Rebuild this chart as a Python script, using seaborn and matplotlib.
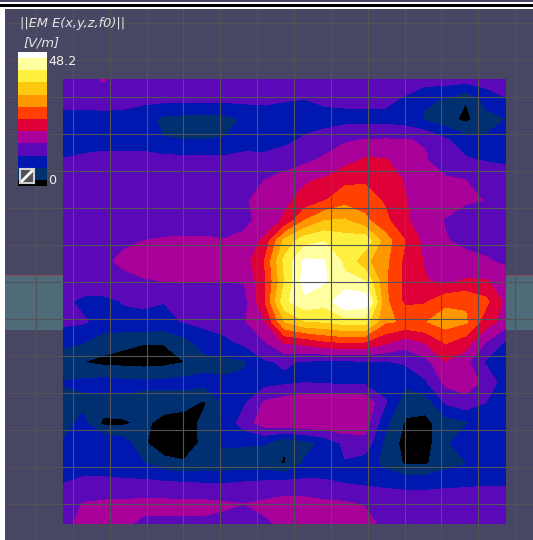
import numpy as np
import seaborn as sns
import matplotlib.pyplot as plt
from matplotlib.colors import ListedColormap
from matplotlib.patches import Rectangle

# field samples in V/m, top row first, 23 columns left to right
row_00 = [14, 14, 16.5, 14, 14, 14, 14, 14, 14, 14, 14, 14, 14, 14, 14, 14, 14, 14, 14, 14, 14, 14, 14]
row_01 = [13, 13, 13.2, 13, 13, 13, 13, 13, 13, 13, 12.8, 12.2, 12, 12.7, 13, 13, 13, 11.5, 8.5, 7.8, 4.2, 9.5, 11.8]
row_02 = [11, 11, 11, 11, 9.5, 7, 6.5, 6.5, 6.5, 8.5, 10, 10.5, 10.5, 10.7, 10.7, 10.7, 10.7, 10, 7.5, 5.5, 3, 6.5, 8]
row_03 = [9.5, 9.7, 10, 10, 10, 8.2, 8, 8, 8.2, 10.5, 10.7, 11, 12.5, 13.5, 15.5, 16.1, 16.2, 16.1, 15.8, 12.5, 9.5, 8.6, 8.5]
row_04 = [12.2, 13, 13.5, 13.5, 13.5, 13.3, 13.2, 13.2, 13, 13, 12.8, 14, 15, 16.8, 18.5, 20.5, 20.3, 18, 16.2, 14, 12.5, 11.7, 11.5]
row_05 = [13.5, 14, 14.5, 14.5, 14.5, 14.5, 14.3, 14.3, 14.5, 15, 16, 17.5, 19.5, 20.5, 23, 23.5, 23, 19.5, 17.5, 16.5, 16, 15, 13.5]
row_06 = [13.5, 14, 14.5, 14.5, 14.5, 14.5, 14.5, 14.5, 14.7, 15.5, 17.5, 19, 21.5, 23.8, 26.5, 26, 23.5, 20.2, 18, 17, 16.5, 15.9, 14]
row_07 = [14, 14.5, 14.7, 15, 15, 15, 15, 15, 15, 15.3, 17, 20.7, 28, 32, 32.5, 29, 25, 20.7, 17.5, 15.8, 14, 14, 13.8]
row_08 = [14.5, 14.7, 15, 15.6, 16, 16.2, 16.3, 16.3, 16.1, 16.7, 21, 33, 38.5, 39.8, 38, 39, 30, 24, 18.5, 16.2, 15.2, 14.6, 14.4]
row_09 = [14.7, 15, 15.5, 16.5, 17, 17.5, 17.5, 17.5, 17.5, 18, 24, 37, 44.7, 44.2, 39, 33, 29, 23, 19.5, 18, 17, 16.4, 15.3]
row_10 = [14.5, 14.7, 15, 15.3, 15.8, 16, 16, 16, 16, 16.2, 23, 36, 46, 44.3, 41, 40, 28.5, 23, 20.3, 19, 20.5, 20.3, 18]
row_11 = [13, 11, 10.8, 12.2, 12.3, 12.1, 12.5, 13.5, 14.5, 14.5, 23.5, 39, 43, 41.5, 48, 47, 29, 23, 23.5, 27, 27.5, 25, 18.8]
row_12 = [13, 12.5, 10.5, 11, 11.5, 11, 12.2, 13, 14, 15.6, 19.5, 32, 35.7, 36.3, 38, 38, 28.5, 27.5, 27.8, 30, 28.5, 22, 18]
row_13 = [9, 8.2, 6, 4.8, 4.2, 4.2, 6.5, 10, 11, 13, 15.8, 20.5, 21.5, 23.5, 24.5, 24, 21, 18, 20.5, 24.5, 22, 16, 11.5]
row_14 = [5.8, 4, 3, 2.8, 2.5, 2.8, 3.9, 6.5, 7, 7.5, 11.5, 12.5, 11.5, 11, 11, 11.5, 11.7, 12.5, 14.5, 19.8, 17, 11.5, 7.5]
row_15 = [8.2, 8.9, 9.5, 9, 8.7, 9, 9.5, 9.2, 8.5, 9, 10.5, 11.2, 11.9, 11.5, 11, 11, 10, 9, 11.5, 17, 18, 15, 9.5]
row_16 = [7, 7, 6.8, 7.2, 6.8, 6, 5.5, 3.5, 8.2, 11.5, 16.5, 18, 19, 19.3, 19.5, 19, 12.5, 5.5, 5.5, 12.5, 14.5, 12, 9.5]
row_17 = [6.5, 9, 3, 3.2, 5, 2.5, 2, 5, 9, 14, 18, 19.5, 19.7, 19.8, 19.5, 18, 9, 3.5, 3, 6, 7.5, 9, 9.5]
row_18 = [8.3, 11, 12, 10, 4.5, 1.5, 1.5, 5, 8.8, 8.5, 8.3, 4.4, 6.5, 9, 13, 14.5, 7, 2.5, 2.5, 7, 11.5, 11, 10]
row_19 = [9.8, 10, 9.5, 8.4, 8.2, 5.5, 4.5, 5.5, 5.5, 5.5, 5.5, 3.6, 8.5, 9.5, 11.7, 10, 6.8, 3.5, 3.5, 6.5, 7.8, 9, 9.5]
row_20 = [12, 13, 13.3, 13.2, 13, 12.8, 12.5, 12.1, 12, 12.6, 13, 13.5, 13.1, 12.7, 12, 11.5, 11.2, 11, 11, 11.3, 11.5, 11.7, 11.7]
row_21 = [14, 16.2, 16.6, 16.8, 17, 17, 17, 17, 16.5, 16, 16.7, 17.5, 17.5, 16.8, 16.5, 15.6, 14.5, 14, 14, 14, 14, 14, 14]
row_22 = [15, 17, 17, 16.5, 15.3, 15.3, 15.3, 15.3, 15, 15.5, 15.5, 16.5, 17, 17.5, 18, 18, 14.5, 14.5, 15, 14.5, 14.5, 14.5, 14.5]

field_rows = [row_00, row_01, row_02, row_03, row_04, row_05, row_06, row_07, row_08, row_09, row_10, row_11,
              row_12, row_13, row_14, row_15, row_16, row_17, row_18, row_19, row_20, row_21, row_22]

band_edges = [0, 4, 8, 12, 16, 20, 24, 28, 32, 36, 40, 44, 48.2]
band_colors = ["#000000", "#003070", "#0018b0", "#5a08b8", "#a80098", "#e00038",
               "#ff4000", "#ff9800", "#ffc810", "#fff040", "#ffffa0", "#ffffff"]
# legend rows, top to bottom, in half steps (end bands are half as tall)
legend_rows = [11, 10, 10, 9, 9, 8, 8, 7, 7, 6, 6, 5, 5, 4, 4, 3, 3, 2, 2, 1, 1, 0]

grid_x = [36, 72.8, 109.7, 146.5, 183.4, 220.2, 257.1, 293.9, 330.8, 367.6, 404.5, 441.3, 478.2, 515]
grid_y = [23, 60, 97, 134, 171, 208, 245, 282, 319, 356, 393, 430, 467, 504]

W, H = 533, 540
BG = "#474764"
GRID = "#525258"

sns.set_theme(style="white")
plt.rcParams["font.family"] = ["DejaVu Sans"]

fig = plt.figure(figsize=(W / 100, H / 100), dpi=100, facecolor="white")


def px_axes(x0, y0, x1, y1, zorder):
    return fig.add_axes([x0 / W, 1 - y1 / H, (x1 - x0) / W, (y1 - y0) / H], zorder=zorder)


# backdrop: slate plane and the strip behind the field
back = px_axes(0, 0, W, H, 0)
back.set_xlim(0, W)
back.set_ylim(H, 0)
back.axis("off")
back.add_patch(Rectangle((5, 9), W, H, color=BG, lw=0))
back.add_patch(Rectangle((5, 274.5), W, 55.5, color="#4f6a78", lw=0))
back.plot([5, W], [274.5, 274.5], color="#8a4a60", lw=0.8)

# the field itself
ax = px_axes(63, 79, 506, 524, 1)
field = np.array(field_rows)
ax.contourf(np.arange(field.shape[1]), np.arange(field.shape[0]), field,
            levels=band_edges, colors=band_colors, antialiased=False)
ax.set_ylim(field.shape[0] - 1, 0)
ax.axis("off")

# thin grid over everything, page frame on top of it
over = px_axes(0, 0, W, H, 2)
over.patch.set_alpha(0)
over.set_xlim(0, W)
over.set_ylim(H, 0)
over.set_xticks(grid_x)
over.set_yticks(grid_y)
over.tick_params(length=0, labelbottom=False, labelleft=False)
over.grid(True, color=GRID, lw=0.8)
over.add_patch(Rectangle((0, 0), 5, H, color="white", lw=0, zorder=3))
over.add_patch(Rectangle((0, 0), W, 9, color="white", lw=0, zorder=3))
over.add_patch(Rectangle((0, 0), W, 1.5, color=BG, lw=0, zorder=4))
over.add_patch(Rectangle((0, 4), W, 2.7, color="black", lw=0, zorder=4))
for side in over.spines.values():
    side.set_visible(False)

# legend bar
cax = px_axes(18, 52, 47, 186, 3)
sns.heatmap(np.array(legend_rows)[:, None], cmap=ListedColormap(band_colors), vmin=-0.5, vmax=11.5,
            cbar=False, xticklabels=False, yticklabels=False, ax=cax)

# little toggle button on the legend
btn = px_axes(20, 169, 34, 183, 4)
btn.set_xlim(0, 1)
btn.set_ylim(0, 1)
btn.set_xticks([])
btn.set_yticks([])
btn.set_facecolor("#505058")
for side in btn.spines.values():
    side.set_color("#d0d0d0")
    side.set_linewidth(1.5)
btn.plot([0.12, 0.88], [0.12, 0.88], color="white", lw=2)

txt = px_axes(0, 0, W, H, 5)
txt.patch.set_alpha(0)
txt.set_xlim(0, W)
txt.set_ylim(H, 0)
txt.axis("off")
txt.text(20, 24, "||EM E(x,y,z,f0)||", color="#e4e4e8", fontsize=9.3, style="italic", va="center")
txt.text(23, 43, "[V/m]", color="#e4e4e8", fontsize=9.4, style="italic", va="center")
txt.text(48, 61.5, "48.2", color="#f0f0f0", fontsize=9.2, va="center")
txt.text(48, 180, "0", color="#f0f0f0", fontsize=9.2, va="center")

fig.savefig("out.png", dpi=100)
